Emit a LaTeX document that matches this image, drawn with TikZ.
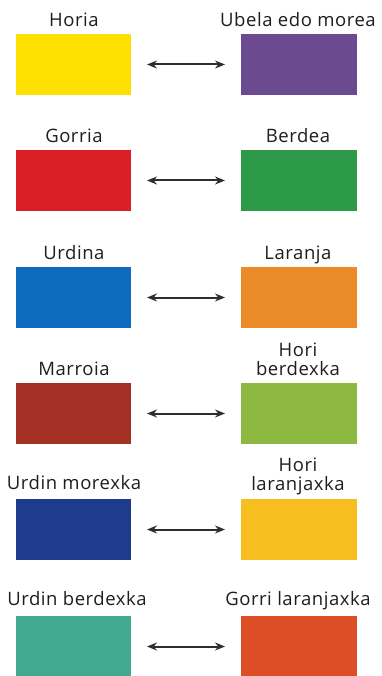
\documentclass[tikz,border=0pt]{standalone}
\usepackage{fontspec}
\setmainfont[LetterSpace=3]{Open Sans}
\usetikzlibrary{arrows.meta}
\definecolor{cYellow}{HTML}{FEE000}
\definecolor{cPurple}{HTML}{6B4A92}
\definecolor{cRed}{HTML}{D91E26}
\definecolor{cGreen}{HTML}{2C9A48}
\definecolor{cBlue}{HTML}{0E6BBE}
\definecolor{cOrange}{HTML}{EA8A28}
\definecolor{cBrown}{HTML}{A33024}
\definecolor{cLime}{HTML}{8DB842}
\definecolor{cNavy}{HTML}{1F3B8C}
\definecolor{cAmber}{HTML}{F6BE1E}
\definecolor{cTeal}{HTML}{40A98F}
\definecolor{cRedOr}{HTML}{DE4E26}
\definecolor{txt}{HTML}{1E1E1E}
\definecolor{arrc}{HTML}{2E2E2E}
\tikzset{
  lbox/.style={fill=#1, draw=none, anchor=north west, minimum width=115pt, minimum height=61pt, inner sep=0pt, outer sep=0pt},
  rbox/.style={fill=#1, draw=none, anchor=north west, minimum width=116pt, minimum height=61pt, inner sep=0pt, outer sep=0pt},
  lab/.style={font=\fontsize{18.5}{18.5}\selectfont, text=txt, anchor=base, inner sep=0pt, align=center},
  pair/.style={arrc, line width=2pt, {Stealth[length=10pt,width=8pt]}-{Stealth[length=10pt,width=8pt]}, shorten <=16pt, shorten >=16pt}
}
\begin{document}
\begin{tikzpicture}[x=1pt,y=-1pt]
\useasboundingbox (0,0) rectangle (382,676);
\fill[white] (0,0) rectangle (382,676);
% row 1
\node[lbox=cYellow] (L1) at (16,34) {};
\node[rbox=cPurple] (R1) at (241,34) {};
\node[lab] (tL1) at (74,27) {Horia};
\node[lab] (tR1) at (298,27) {Ubela edo morea};
\draw[pair] (L1.east) -- (R1.west);
% row 2
\node[lbox=cRed] (L2) at (16,150) {};
\node[rbox=cGreen] (R2) at (241,150) {};
\node[lab] (tL2) at (74,143) {Gorria};
\node[lab] (tR2) at (298,143) {Berdea};
\draw[pair] (L2.east) -- (R2.west);
% row 3
\node[lbox=cBlue] (L3) at (16,267) {};
\node[rbox=cOrange] (R3) at (241,267) {};
\node[lab] (tL3) at (74,259) {Urdina};
\node[lab] (tR3) at (298,259) {Laranja};
\draw[pair] (L3.east) -- (R3.west);
% row 4
\node[lbox=cBrown] (L4) at (16,383) {};
\node[rbox=cLime] (R4) at (241,383) {};
\node[lab] (tL4) at (74,375) {Marroia};
\node[lab] (tR4) at (298,375) {Hori\\berdexka};
\draw[pair] (L4.east) -- (R4.west);
% row 5
\node[lbox=cNavy] (L5) at (16,499) {};
\node[rbox=cAmber] (R5) at (241,499) {};
\node[lab] (tL5) at (74,489) {Urdin morexka};
\node[lab] (tR5) at (298,490) {Hori\\laranjaxka};
\draw[pair] (L5.east) -- (R5.west);
% row 6
\node[lbox=cTeal] (L6) at (16,616) {};
\node[rbox=cRedOr] (R6) at (241,616) {};
\node[lab] (tL6) at (77,605) {Urdin berdexka};
\node[lab] (tR6) at (298,605) {Gorri laranjaxka};
\draw[pair] (L6.east) -- (R6.west);
\end{tikzpicture}
\end{document}
